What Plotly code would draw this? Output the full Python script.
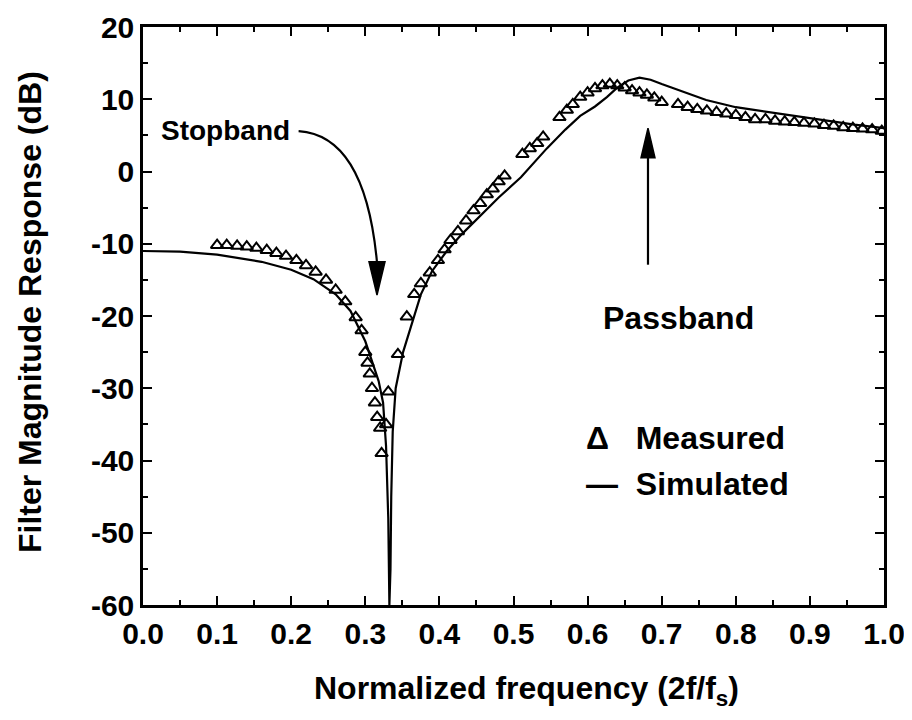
import plotly.graph_objects as go

# Measured data (triangles)
meas_f = [0.100, 0.113, 0.127, 0.140, 0.153, 0.167, 0.180, 0.193, 0.207, 0.220,
          0.233, 0.247, 0.260, 0.273, 0.287, 0.295, 0.300, 0.303, 0.306, 0.309,
          0.313, 0.316, 0.320, 0.322, 0.328, 0.331, 0.344, 0.356, 0.366, 0.375,
          0.387, 0.398, 0.407, 0.415, 0.425, 0.436, 0.446, 0.455, 0.464, 0.472,
          0.480, 0.488, 0.512, 0.522, 0.532, 0.540, 0.562, 0.572, 0.580, 0.590,
          0.600, 0.610, 0.620, 0.630, 0.640, 0.650, 0.660, 0.670, 0.680, 0.690,
          0.700, 0.722, 0.735, 0.748, 0.761, 0.774, 0.787, 0.800, 0.813, 0.826,
          0.840, 0.853, 0.866, 0.879, 0.892, 0.906, 0.919, 0.932, 0.945, 0.958,
          0.971, 0.984, 0.997]
meas_db = [-10.2, -10.2, -10.3, -10.4, -10.6, -10.9, -11.3, -11.7, -12.3, -13.0,
           -13.9, -15.0, -16.4, -18.0, -20.2, -22.0, -25.0, -26.5, -28.0, -30.0,
           -32.0, -34.0, -35.5, -39.0, -35.0, -30.5, -25.3, -20.1, -17.0, -15.5,
           -14.0, -12.3, -10.8, -9.5, -8.3, -6.8, -5.4, -4.4, -3.2, -2.4,
           -1.4, -0.6, 2.4, 3.2, 3.9, 4.8, 7.5, 8.5, 9.3, 10.3,
           10.9, 11.5, 11.9, 12.1, 11.9, 11.6, 11.2, 10.9, 10.6, 10.2,
           9.6, 9.3, 8.9, 8.6, 8.4, 8.2, 8.0, 7.8, 7.5, 7.2,
           7.2, 7.0, 6.9, 6.8, 6.7, 6.6, 6.4, 6.3, 6.1, 6.0,
           5.9, 5.8, 5.6]

# Simulated response (solid line)
sim_f = [0.00, 0.05, 0.10, 0.13, 0.16, 0.20, 0.23, 0.26, 0.28, 0.30,
         0.31, 0.318, 0.324, 0.328, 0.331, 0.3325, 0.334, 0.335, 0.337, 0.341,
         0.351, 0.364, 0.375, 0.39, 0.41, 0.43, 0.455, 0.48, 0.51, 0.545,
         0.57, 0.59, 0.61, 0.626, 0.64, 0.655, 0.67, 0.685, 0.70, 0.73,
         0.76, 0.80, 0.84, 0.88, 0.92, 0.96, 1.00]
sim_db = [-11.0, -11.1, -11.5, -12.0, -12.5, -13.6, -14.9, -17.0, -19.3, -23.5,
          -26.5, -29.0, -32.0, -38.0, -48.0, -60.0, -55.0, -45.0, -36.0, -30.0,
          -25.0, -20.5, -17.0, -13.8, -11.0, -8.7, -6.2, -3.6, -0.8, 3.2,
          5.8, 7.7, 9.0, 10.3, 11.6, 12.6, 13.0, 12.7, 12.1, 11.0,
          9.9, 8.9, 8.3, 7.6, 7.0, 6.5, 6.0]

x_tickvals = [0.0, 0.1, 0.2, 0.3, 0.4, 0.5, 0.6, 0.7, 0.8, 0.9, 1.0]
x_ticktext = ["0.0", "0.1", "0.2", "0.3", "0.4", "0.5", "0.6", "0.7", "0.8", "0.9", "1.0"]
y_tickvals = [-60, -50, -40, -30, -20, -10, 0, 10, 20]
y_ticktext = ["-60", "-50", "-40", "-30", "-20", "-10", "0", "10", "20"]

FONT = "Liberation Sans"


def bold(s):
    return "<b>" + s + "</b>"


def tfont(size):
    return dict(family=FONT, size=size, color="black")


fig = go.Figure()
fig.add_trace(go.Scatter(x=sim_f, y=sim_db, mode="lines",
                         line=dict(color="black", width=2.2), name="Simulated",
                         showlegend=False))
fig.add_trace(go.Scatter(x=meas_f, y=meas_db, mode="markers",
                         marker=dict(symbol="triangle-up-open", size=11,
                                     color="black", line=dict(width=2, color="black")),
                         name="Measured", showlegend=False))

fig.update_xaxes(range=[0, 1], tickvals=x_tickvals,
                 ticktext=[bold(t) for t in x_ticktext],
                 ticks="inside", ticklen=9, tickwidth=2, tickcolor="black",
                 showline=True, linecolor="black", linewidth=2.5, mirror="allticks",
                 showgrid=False, zeroline=False, automargin=False,
                 tickfont=tfont(30),
                 minor=dict(ticks="inside", ticklen=5, tickwidth=1.5, tickcolor="black",
                            dtick=0.05))
fig.update_yaxes(range=[-60, 20], tickvals=y_tickvals,
                 ticktext=[bold(t) for t in y_ticktext],
                 ticks="inside", ticklen=9, tickwidth=2, tickcolor="black",
                 showline=True, linecolor="black", linewidth=2.5, mirror="allticks",
                 showgrid=False, zeroline=False, automargin=False,
                 tickfont=tfont(30),
                 minor=dict(ticks="inside", ticklen=5, tickwidth=1.5, tickcolor="black",
                            dtick=5))

# Axis titles as annotations (for exact placement)
fig.add_annotation(x=0.517, y=0, xref="paper", yref="paper", yanchor="middle",
                   yshift=-85, text=bold("Normalized frequency (2f/f<sub>s</sub>)"),
                   showarrow=False, font=tfont(32))
fig.add_annotation(x=0, y=0.5, xref="paper", yref="paper", xanchor="center",
                   xshift=-113, yshift=4, textangle=-90,
                   text=bold("Filter Magnitude Response (dB)"), showarrow=False,
                   font=tfont(32))

# Curved arrow for Stopband (shaft + filled head)
fig.add_shape(type="path",
              path="M 0.210 5.6 Q 0.300 5.0 0.3158 -12.6",
              line=dict(color="black", width=2.2))
fig.add_shape(type="path",
              path="M 0.3050 -12.5 L 0.3266 -12.5 L 0.3158 -17.1 Z",
              line=dict(color="black", width=1.5), fillcolor="black")
fig.add_annotation(x=0.112, y=5.7, text=bold("Stopband"), showarrow=False,
                   font=tfont(28))

# Straight arrow for Passband (shaft + filled head)
fig.add_shape(type="line", x0=0.6815, y0=-12.9, x1=0.6815, y1=2.0,
              line=dict(color="black", width=2.2))
fig.add_shape(type="path",
              path="M 0.6721 1.9 L 0.6909 1.9 L 0.6815 6.0 Z",
              line=dict(color="black", width=1.5), fillcolor="black")
fig.add_annotation(x=0.722, y=-20.3, text=bold("Passband"), showarrow=False,
                   font=tfont(32))

# Legend text
fig.add_annotation(x=0.595, y=-36.9, xanchor="left", text=bold("Δ   Measured"),
                   showarrow=False, font=tfont(32))
fig.add_annotation(x=0.595, y=-43.3, xanchor="left", text=bold("—  Simulated"),
                   showarrow=False, font=tfont(32))

fig.update_layout(template="none", width=904, height=704,
                  margin=dict(l=135, r=28, t=19, b=107),
                  paper_bgcolor="white", plot_bgcolor="white",
                  font=dict(family=FONT, color="black"), showlegend=False)

fig.write_html("out.html")
